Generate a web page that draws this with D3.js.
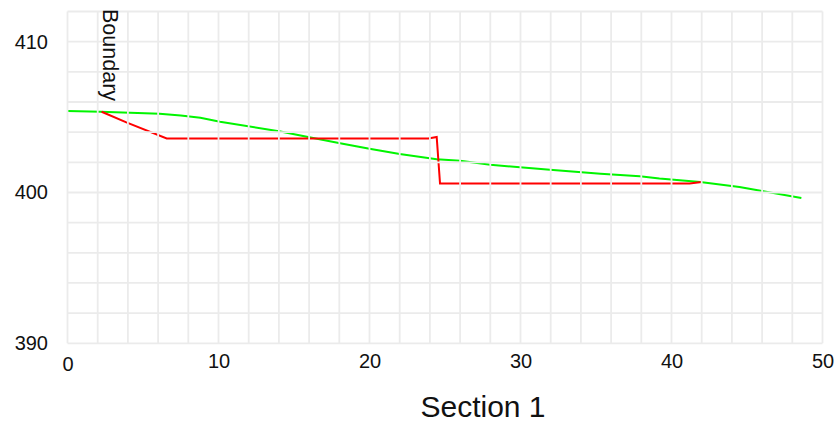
<!DOCTYPE html>
<html lang="en">
  <head>
    <meta charset="utf-8">
    <title>Section 1</title>
    <script type="text/javascript" src="https://cdn.jsdelivr.net/npm/d3@7"></script>
    <style>
    body {
      margin: 0;
      background: #ffffff;
    }
    #chart text {
      font-family: "Liberation Sans", Arial, sans-serif;
      fill: #111111;
    }
    .grid line {
      stroke: #ebebeb;
      stroke-width: 1.8;
    }
    </style>
  </head>
  <body>
    <div id="chart"></div>

    <script type="text/javascript">

      // green profile (distance, elevation)
      var greenX = [0, 2.2, 6.1, 7.5, 8.8, 10.1, 14.1, 16.1, 18.05, 20.0, 22.0, 24.45, 26.0, 28.0, 31.95, 35.3, 37.9, 39.2, 41.9, 44.5, 45.9, 48.6];
      var greenY = [405.40, 405.35, 405.22, 405.1, 404.95, 404.69, 404.05, 403.65, 403.27, 402.9, 402.55, 402.21, 402.1, 401.84, 401.5, 401.24, 401.07, 400.92, 400.69, 400.36, 400.11, 399.63];

      // red profile
      var redX = [2.26, 3.9, 6.57, 23.9, 24.45, 24.67, 41.2, 42.0];
      var redY = [405.35, 404.65, 403.58, 403.58, 403.68, 400.6, 400.6, 400.69];

      var xTicks = [0, 10, 20, 30, 40, 50];
      var yTicks = [390, 400, 410];
      var boundaryX = 2.26;
      var boundaryLabel = 'Boundary';
      var title = 'Section 1';

      var dims = { w: 836, h: 428, left: 67.5, right: 822.5, top: 11.5, bottom: 343.3 };

      var svg = d3.select('#chart')
        .append('svg')
          .attr('width', dims.w)
          .attr('height', dims.h);

      var xScale = d3.scaleLinear()
        .domain([0, 50])
        .range([dims.left, dims.right]);

      var yScale = d3.scaleLinear()
        .domain([390, 412])
        .range([dims.bottom, dims.top]);

      var line = d3.line()
        .x(function(d) { return xScale(d[0]); })
        .y(function(d) { return yScale(d[1]); });

      var greenData = greenX.map(function(x, i) { return [x, greenY[i]]; });
      var redData = redX.map(function(x, i) { return [x, redY[i]]; });

      svg.append('path')
        .datum(greenData)
        .attr('d', line)
        .attr('fill', 'none')
        .attr('stroke', '#00f500')
        .attr('stroke-width', 2);

      svg.append('path')
        .datum(redData)
        .attr('d', line)
        .attr('fill', 'none')
        .attr('stroke', '#ff0000')
        .attr('stroke-width', 2);

      // grid is drawn over the lines, like the original
      var grid = svg.append('g').attr('class', 'grid');

      grid.selectAll('.vline')
        .data(d3.range(0, 51, 2))
        .enter()
        .append('line')
          .attr('class', 'vline')
          .attr('x1', function(d) { return xScale(d); })
          .attr('x2', function(d) { return xScale(d); })
          .attr('y1', yScale(390))
          .attr('y2', yScale(412));

      grid.selectAll('.hline')
        .data(d3.range(390, 413, 2))
        .enter()
        .append('line')
          .attr('class', 'hline')
          .attr('x1', xScale(0))
          .attr('x2', xScale(50))
          .attr('y1', function(d) { return yScale(d); })
          .attr('y2', function(d) { return yScale(d); });

      // axes
      var xAxis = d3.axisBottom(xScale)
        .tickValues(xTicks)
        .tickSize(0)
        .tickPadding(10.5);

      var yAxis = d3.axisLeft(yScale)
        .tickValues(yTicks)
        .tickSize(0)
        .tickPadding(19.5);

      var gx = svg.append('g')
        .attr('transform', 'translate(0,' + dims.bottom + ')')
        .call(xAxis);
      gx.select('.domain').remove();
      gx.selectAll('text')
        .style('font-size', '20px')
        .attr('dy', function(d) { return d === 0 ? '0.86em' : '0.71em'; });

      var gy = svg.append('g')
        .attr('transform', 'translate(' + dims.left + ',0)')
        .call(yAxis);
      gy.select('.domain').remove();
      gy.selectAll('text').style('font-size', '20px');

      // boundary label
      svg.append('text')
        .attr('transform', 'translate(' + (xScale(boundaryX) + 1.5) + ',' + 9 + ') rotate(90)')
        .style('font-size', '21.5px')
        .text(boundaryLabel);

      // title
      svg.append('text')
        .attr('x', 483)
        .attr('y', 417)
        .attr('text-anchor', 'middle')
        .style('font-size', '30px')
        .text(title);

    </script>
  </body>
</html>
